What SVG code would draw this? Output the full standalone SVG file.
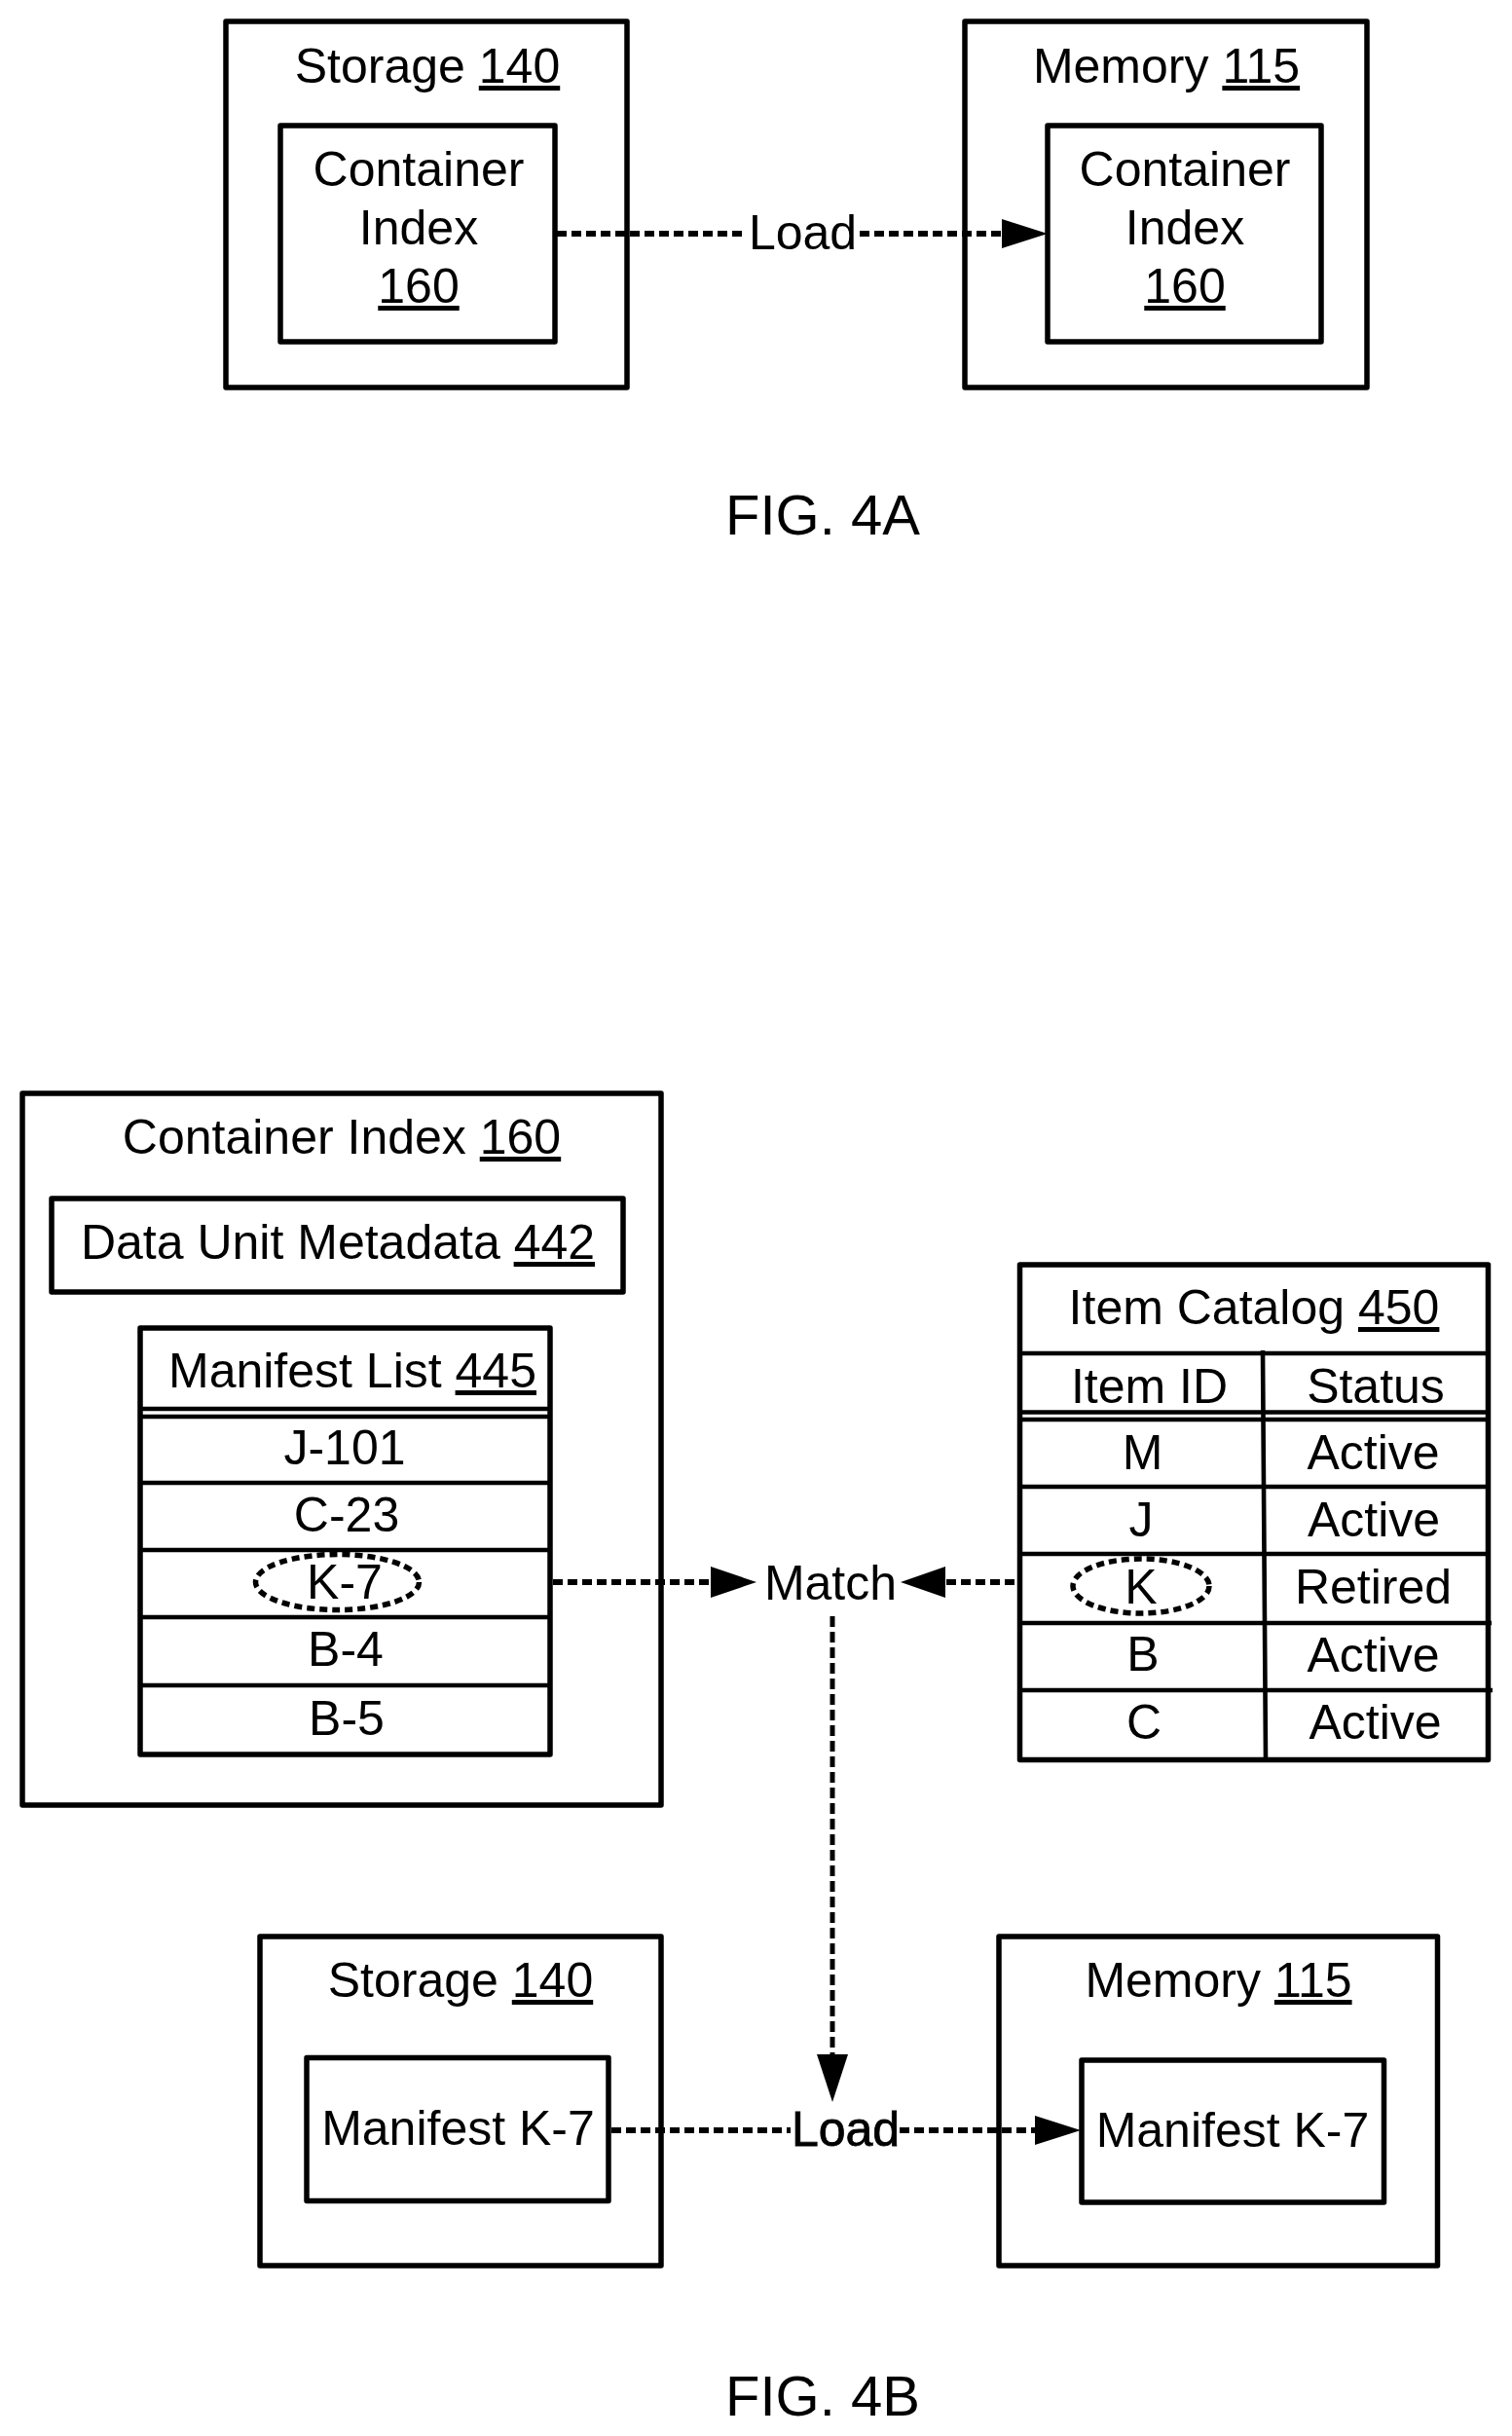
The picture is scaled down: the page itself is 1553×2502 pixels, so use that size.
<svg xmlns="http://www.w3.org/2000/svg" width="1553" height="2502" viewBox="0 0 1553 2502">
<style>
text{font-family:"Liberation Sans",Arial,sans-serif;font-size:50px;fill:#000;text-anchor:middle}
.u{text-decoration:underline}
.fig{font-size:58px}
.b{fill:#fff;stroke:#000;stroke-width:5.5;stroke-linejoin:round}
.l{stroke:#000;stroke-width:4.6;fill:none}
.d{stroke:#000;stroke-width:6;fill:none;stroke-dasharray:10 5}
.v{stroke:#000;stroke-width:5;fill:none;stroke-dasharray:11 5}
.e{stroke:#000;stroke-width:5.5;fill:none;stroke-dasharray:8 5}
.h{fill:#000}
</style>
<rect width="1553" height="2502" fill="#fff"/>
<g id="storage-a"><rect class="b" x="232" y="22" width="412" height="376"/><text x="439" y="85">Storage <tspan class="u">140</tspan></text></g>
<g id="index-a1"><rect class="b" x="288" y="129" width="282" height="222"/><text x="430" y="191">Container</text><text x="430" y="251">Index</text><text x="430" y="311" class="u">160</text></g>
<g id="memory-a"><rect class="b" x="991" y="22" width="413" height="376"/><text x="1198" y="85">Memory <tspan class="u">115</tspan></text></g>
<g id="index-a2"><rect class="b" x="1076" y="129" width="281" height="222"/><text x="1217" y="191">Container</text><text x="1217" y="251">Index</text><text x="1217" y="311" class="u">160</text></g>
<text id="fig-a" class="fig" x="845" y="549">FIG. 4A</text>
<g id="container-index"><rect class="b" x="23" y="1123" width="656" height="731"/><text x="351" y="1185">Container Index <tspan class="u">160</tspan></text></g>
<g id="metadata"><rect class="b" x="53" y="1231" width="587" height="96"/><text x="347" y="1293">Data Unit Metadata <tspan class="u">442</tspan></text></g>
<g id="manifest-list"><rect class="b" x="144" y="1364" width="421" height="438"/>
<path class="l" d="M144 1447H565M144 1455H565M144 1523H565M144 1592H565M144 1661H565M144 1731H567"/>
<text x="362" y="1425">Manifest List <tspan class="u">445</tspan></text>
<text x="354" y="1504">J-101</text><text x="356" y="1573">C-23</text><text x="354" y="1642">K-7</text><text x="355" y="1711">B-4</text><text x="356" y="1782">B-5</text>
<ellipse class="e" cx="346.500" cy="1625" rx="84" ry="28.500"/></g>
<g id="item-catalog"><rect class="b" x="1047.500" y="1299" width="481" height="508.500"/>
<path class="l" d="M1047 1390H1528M1047 1450.500H1528M1047 1458H1528M1047 1527H1528M1047 1596H1528M1047 1667H1532M1047 1736H1533M1297 1387L1300 1807"/>
<text x="1288" y="1360">Item Catalog <tspan class="u">450</tspan></text>
<text x="1180.500" y="1441">Item ID</text><text x="1413" y="1441">Status</text>
<text x="1173.500" y="1509">M</text><text x="1172" y="1578">J</text><text x="1172" y="1647">K</text><text x="1174" y="1716">B</text><text x="1175" y="1786">C</text>
<text x="1410.500" y="1509">Active</text><text x="1411" y="1578">Active</text><text x="1410.500" y="1647">Retired</text><text x="1410.500" y="1717">Active</text><text x="1412.500" y="1786">Active</text>
<ellipse class="e" cx="1172" cy="1629" rx="70" ry="28"/></g>
<text id="match" x="853" y="1643">Match</text>
<g id="storage-b"><rect class="b" x="267" y="1989" width="412" height="338"/><text x="473" y="2051">Storage <tspan class="u">140</tspan></text></g>
<g id="manifest-b1"><rect class="b" x="315" y="2113.500" width="310" height="147"/><text x="470.500" y="2203">Manifest K-7</text></g>
<g id="memory-b"><rect class="b" x="1026" y="1989" width="450.500" height="338"/><text x="1251.500" y="2051">Memory <tspan class="u">115</tspan></text></g>
<g id="manifest-b2"><rect class="b" x="1111" y="2116" width="310.500" height="146"/><text x="1266" y="2205">Manifest K-7</text></g>
<text id="fig-b" class="fig" x="845" y="2481">FIG. 4B</text>
<g id="connectors">
<path class="d" d="M572 240H767M883 240H1029"/><path class="h" d="M1029 225L1076 240L1029 255Z"/><text x="824.500" y="256">Load</text>
<path class="d" d="M568 1625H731"/><path class="h" d="M730 1609L777 1625L730 1641Z"/>
<path class="d" d="M1042 1625H971"/><path class="h" d="M971 1609L925 1625L971 1641Z"/>
<path class="v" d="M855 1660V2112"/><path class="h" d="M839 2110H871L855 2159Z"/>
<path class="d" d="M628 2188H812M924 2188H1063"/><path class="h" d="M1063 2173L1110 2188L1063 2203Z"/><text x="868.500" y="2204" style="stroke:#000;stroke-width:.8">Load</text>
</g>
</svg>
